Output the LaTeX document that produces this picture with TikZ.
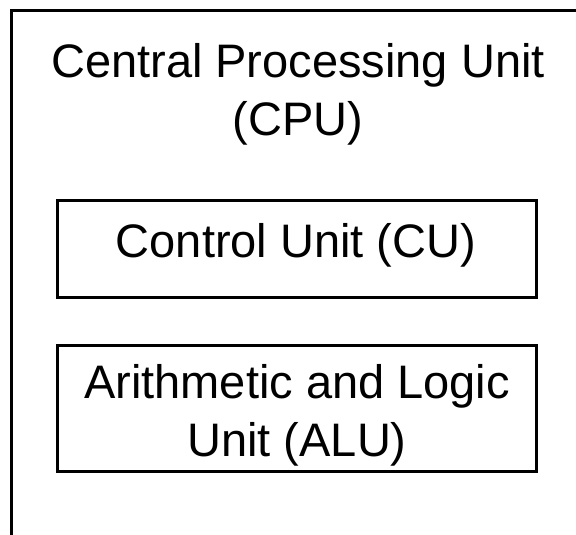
\documentclass[tikz,border=0pt]{standalone}
\usepackage{fontspec}
\setmainfont{Liberation Sans}
\usetikzlibrary{positioning}

\begin{document}
\begin{tikzpicture}[x=1pt, y=1pt, line width=3pt, font=\fontsize{47}{57.5}\selectfont]
	\tikzstyle{unit}=[draw, minimum width=479pt, inner sep=0pt]
	\tikzstyle{caption}=[anchor=base, align=center, inner sep=0pt]

	\useasboundingbox (0,0) rectangle (576,535);
	\clip (0,0) rectangle (576,535);

	% outer frame of the processor, it runs off to the right and below
	\node(cpu)[draw, anchor=north west, minimum width=600pt, minimum height=560pt] at (9.5,525.5) {};
	% base of a two line caption sits on its last line
	\node(cputitle)[caption] at (298,399.5) {Central Processing Unit\\(CPU)};

	\node(cu)[unit, minimum height=97pt] at (297,286) {};
	\node(cutext)[caption] at (296,277.5) {Control Unit (CU)};

	\node(alu)[unit, minimum height=126pt] at (297,126.5) {};
	\node(alutext)[caption] at (297,78.5) {Arithmetic and Logic\\Unit (ALU)};
\end{tikzpicture}
\end{document}
